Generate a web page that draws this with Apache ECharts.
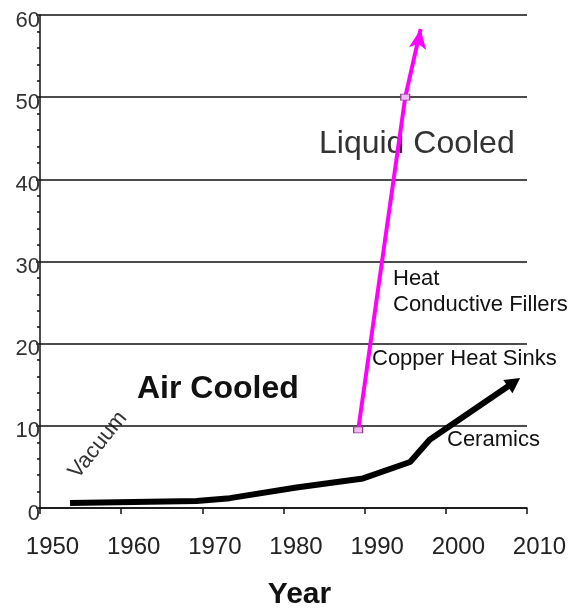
<!DOCTYPE html>
<html>
<head>
<meta charset="utf-8">
<script src="https://cdn.jsdelivr.net/npm/echarts@6/dist/echarts.min.js"></script>
<style>
  html, body { margin: 0; padding: 0; background: #fff; }
  #main { width: 587px; height: 610px; }
</style>
</head>
<body>
<div id="main"></div>
<script>
// 风冷 / 液冷 数据
var airYears = [1953.7, 1969.3, 1973.4, 1981.6, 1989.8, 1995.6, 1998.0, 2008.4];
var airValues = [0.6, 0.85, 1.2, 2.5, 3.6, 5.6, 8.3, 15.3];
var liquidYears = [1989.2, 1995.0, 1996.9];
var liquidValues = [9.5, 50, 58.3];
var yearTicks = [1950, 2010, 10];
var valueTicks = [0, 60, 10];

var myChart = echarts.init(document.getElementById('main'));

var airData = airYears.map(function (x, i) {
    var last = i === airYears.length - 1;
    return {
        value: [x, airValues[i]],
        symbol: last ? 'triangle' : 'none',
        symbolSize: last ? [16, 15] : 0,
        symbolRotate: last ? -55 : 0
    };
});

var liquidData = liquidYears.map(function (x, i) {
    var last = i === liquidYears.length - 1;
    return {
        value: [x, liquidValues[i]],
        symbol: last ? 'arrow' : 'rect',
        symbolSize: last ? [13, 20] : [9, 6],
        symbolRotate: last ? -9 : 0,
        itemStyle: last ? { color: '#ff00ff', borderWidth: 0 } : { color: '#f4b8f4', borderColor: '#8a3a8a', borderWidth: 1 }
    };
});

var txt = function (text, x, y, size, weight, color) {
    return {
        type: 'text', x: x, y: y,
        style: {
            text: text, fontFamily: 'Liberation Sans, Arial, sans-serif',
            fontSize: size, fontWeight: weight, fill: color,
            textAlign: 'left', textVerticalAlign: 'middle'
        }
    };
};

var option = {
    animation: false,
    textStyle: { fontFamily: 'Liberation Sans, Arial, sans-serif' },
    grid: { left: 40, right: 60, top: 15, bottom: 102, outerBoundsMode: 'none' },
    xAxis: {
        type: 'value',
        min: yearTicks[0], max: yearTicks[1], interval: yearTicks[2],
        name: 'Year',
        nameLocation: 'middle',
        nameGap: 72,
        nameTextStyle: { fontSize: 30, fontWeight: 'bold', color: '#111', padding: [0, 0, 0, 32] },
        axisLine: { onZero: false, lineStyle: { color: '#111', width: 1.5 } },
        axisTick: { length: 6, lineStyle: { color: '#111', width: 1.5 } },
        axisLabel: {
            margin: 27,
            formatter: function (v) { return '{a|' + v + '}'; },
            rich: { a: { fontSize: 24, color: '#222', padding: [0, 0, 0, 25] } }
        },
        splitLine: { show: false }
    },
    yAxis: {
        type: 'value',
        min: valueTicks[0], max: valueTicks[1], interval: valueTicks[2],
        axisLine: { show: true, lineStyle: { color: '#111', width: 1.5 } },
        axisTick: { show: true, length: 4, lineStyle: { color: '#111', width: 1.5 } },
        minorTick: { show: true, splitNumber: 5, length: 3, lineStyle: { color: '#111', width: 1.5 } },
        axisLabel: {
            margin: 0,
            formatter: function (v) { return '{a|' + v + '}'; },
            rich: { a: { fontSize: 22, color: '#333', padding: [11, 0, 0, 0] } }
        },
        splitLine: { show: true, lineStyle: { color: '#111', width: 1.5 } }
    },
    series: [
        {
            name: 'Air Cooled',
            type: 'line',
            data: airData,
            lineStyle: { color: '#000', width: 6 },
            itemStyle: { color: '#000' },
            z: 3
        },
        {
            name: 'Liquid Cooled',
            type: 'line',
            data: liquidData,
            lineStyle: { color: '#ff00ff', width: 4 },
            itemStyle: { color: '#ff00ff' },
            z: 4
        }
    ],
    graphic: [
        txt('Air Cooled', 137, 389, 32, 'bold', '#111'),
        txt('Liquid Cooled', 319, 144, 32, 'normal', '#333'),
        txt('Heat', 393, 279, 22, 'normal', '#111'),
        txt('Conductive Fillers', 393, 305, 22, 'normal', '#111'),
        txt('Copper Heat Sinks', 372, 359, 22, 'normal', '#111'),
        txt('Ceramics', 447, 440, 22, 'normal', '#111'),
        {
            type: 'text', x: 98, y: 445, rotation: 51 * Math.PI / 180,
            style: {
                text: 'Vacuum', fontFamily: 'Liberation Sans, Arial, sans-serif',
                fontSize: 22, fill: '#333', textAlign: 'center', textVerticalAlign: 'middle'
            }
        }
    ]
};

myChart.setOption(option);
</script>
</body>
</html>
